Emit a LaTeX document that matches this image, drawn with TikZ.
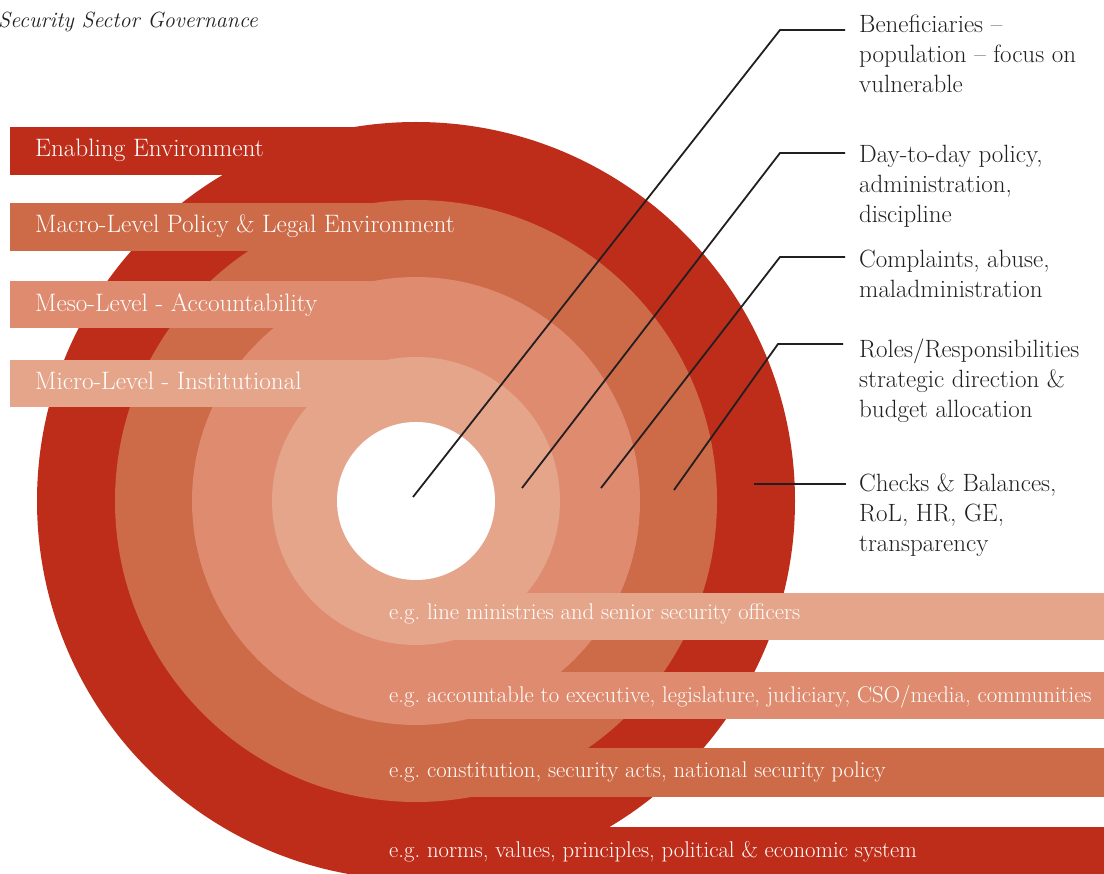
\documentclass[tikz,border=0pt]{standalone}
\usepackage{fontspec}
\definecolor{cRed}{RGB}{190,44,26}
\definecolor{cMacro}{RGB}{205,106,72}
\definecolor{cMeso}{RGB}{222,139,111}
\definecolor{cMicro}{RGB}{228,165,138}
\definecolor{cInk}{RGB}{35,31,32}
\begin{document}
\begin{tikzpicture}[x=1pt,y=-1pt,
  bandlabel/.style={anchor=base west,inner sep=0pt,text=white,font=\fontsize{25.2}{30}\selectfont},
  eglabel/.style={anchor=base west,inner sep=0pt,text=white,font=\fontsize{22.7}{26}\selectfont},
  sidelabel/.style={anchor=base west,inner sep=0pt,text=cInk,font=\fontsize{25}{29.7}\selectfont},
  titlelabel/.style={anchor=base west,inner sep=0pt,text=cInk,font=\fontsize{22}{26}\selectfont\itshape},
  leader/.style={draw=cInk,line width=1.8pt}]
\useasboundingbox (0,0) rectangle (1104,874);
\fill[white] (0,0) rectangle (1104,874);
% rings
\coordinate (ctr) at (416,501);
\fill[cRed] (ctr) circle[radius=379];
\fill[cMacro] (ctr) circle[radius=301];
\fill[cMeso] (ctr) circle[radius=224];
\fill[cMicro] (ctr) circle[radius=144];
\fill[white] (ctr) circle[radius=79];
% left bands
\fill[cRed] (10,127) rectangle (416,175);
\fill[cMacro] (10,203) rectangle (416,251);
\fill[cMeso] (10,281) rectangle (416,328);
\fill[cMicro] (10,360) rectangle (416,407);
% right bands
\fill[cMicro] (416,593) rectangle (1104,640);
\fill[cMeso] (416,672) rectangle (1104,719);
\fill[cMacro] (416,748) rectangle (1104,797);
\fill[cRed] (416,827) rectangle (1104,874);
% title
\node[titlelabel] (title) at (-2,28) {Security Sector Governance};
% left labels
\node[bandlabel] (lEnab) at (35,157) {Enabling Environment};
\node[bandlabel] (lMacro) at (35,233) {Macro-Level Policy \& Legal Environment};
\node[bandlabel] (lMeso) at (35,312) {Meso-Level - Accountability};
\node[bandlabel] (lMicro) at (35,390) {Micro-Level - Institutional};
% right band labels
\node[eglabel] (egMicro) at (389,619) {e.g.\ line ministries and senior security officers};
\node[eglabel] (egMeso) at (389,702) {e.g.\ accountable to executive, legislature, judiciary, CSO/media, communities};
\node[eglabel] (egMacro) at (389,777) {e.g.\ constitution, security acts, national security policy};
\node[eglabel] (egRed) at (389,857) {e.g.\ norms, values, principles, political \& economic system};
% side labels
\node[sidelabel] (sBenef) at (859,33) {\begin{tabular}[t]{@{}l@{}}Beneficiaries --\\population -- focus on\\vulnerable\end{tabular}};
\node[sidelabel] (sDay) at (859,163) {\begin{tabular}[t]{@{}l@{}}Day-to-day policy,\\administration,\\discipline\end{tabular}};
\node[sidelabel] (sCompl) at (859,268) {\begin{tabular}[t]{@{}l@{}}Complaints, abuse,\\maladministration\end{tabular}};
\node[sidelabel] (sRoles) at (859,358) {\begin{tabular}[t]{@{}l@{}}Roles/Responsibilities\\strategic direction \&\\budget allocation\end{tabular}};
\node[sidelabel] (sChecks) at (859,492) {\begin{tabular}[t]{@{}l@{}}Checks \& Balances,\\RoL, HR, GE,\\transparency\end{tabular}};
% leader points
\coordinate (p1) at (413,497);
\coordinate (k1) at (780,30);
\coordinate (e1) at (845,30);
\coordinate (p2) at (522,488);
\coordinate (k2) at (780,153);
\coordinate (e2) at (845,153);
\coordinate (p3) at (601,488);
\coordinate (k3) at (780,257);
\coordinate (e3) at (845,257);
\coordinate (p4) at (674,490);
\coordinate (k4) at (778,344);
\coordinate (e4) at (843,344);
\coordinate (p5) at (754,484);
\coordinate (e5) at (846,484);
\draw[leader] (p1) -- (k1) -- (e1);
\draw[leader] (p2) -- (k2) -- (e2);
\draw[leader] (p3) -- (k3) -- (e3);
\draw[leader] (p4) -- (k4) -- (e4);
\draw[leader] (p5) -- (e5);
\end{tikzpicture}
\end{document}
